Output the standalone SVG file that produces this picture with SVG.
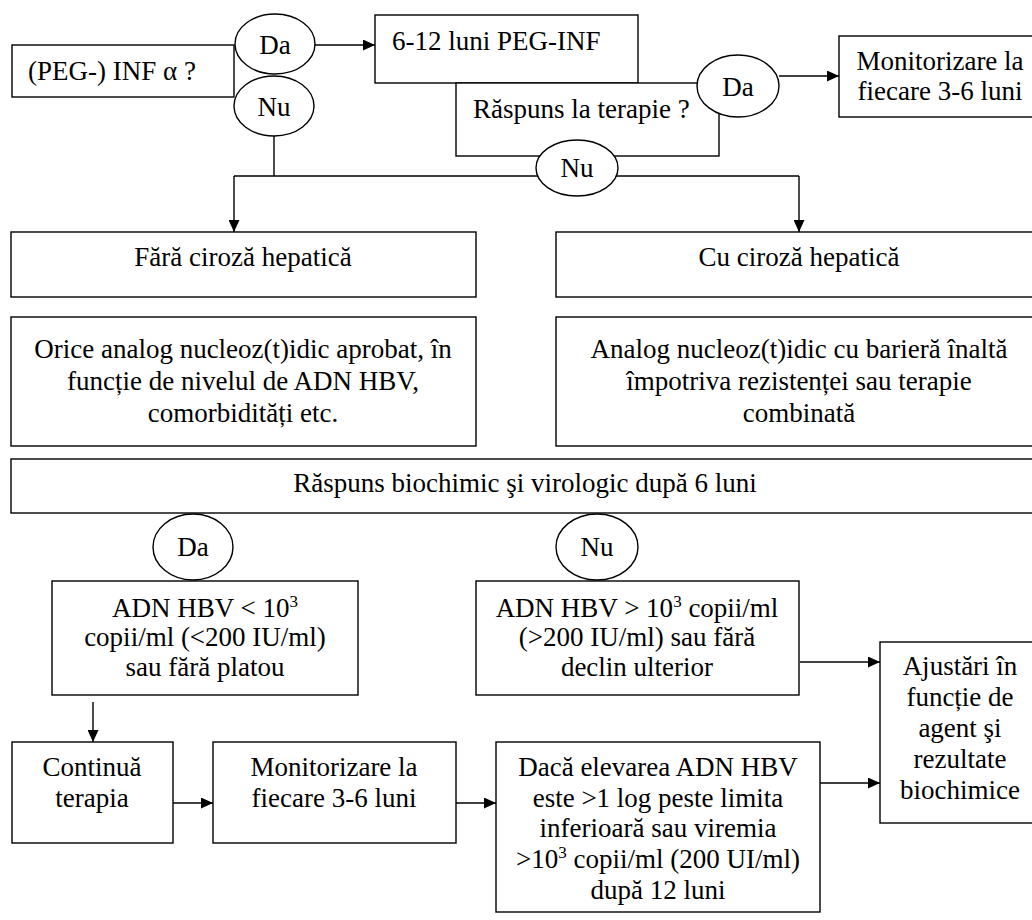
<svg xmlns="http://www.w3.org/2000/svg" width="1032" height="920" viewBox="0 0 1032 920">
<defs>
<marker id="ah" markerUnits="userSpaceOnUse" viewBox="0 0 12 11" markerWidth="12" markerHeight="11" refX="12" refY="5.5" orient="auto">
<path d="M0,0 L12,5.5 L0,11 z" fill="#000"/>
</marker>
<style>
rect.b, ellipse { fill: #fff; stroke: #000; stroke-width: 1.4; }
.c line { stroke: #000; stroke-width: 1.4; fill: none; }
.a { marker-end: url(#ah); }
text { font-family: "Liberation Serif", "Times New Roman", serif; font-size: 27px; fill: #000; }
.m { text-anchor: middle; }
.sup { font-size: 17px; }
</style>
</defs>
<rect x="0" y="0" width="1032" height="920" style="fill:#fff;stroke:none"/>

<g id="connectors" class="c">
<line class="a" x1="315" y1="45" x2="375" y2="45"/>
<line x1="274" y1="136" x2="274" y2="176"/>
<line x1="234" y1="176" x2="799" y2="176"/>
<line class="a" x1="234" y1="176" x2="234" y2="232"/>
<line class="a" x1="799" y1="176" x2="799" y2="232"/>
<line class="a" x1="779" y1="76" x2="839" y2="76"/>
<line class="a" x1="93" y1="702" x2="93" y2="742"/>
<line class="a" x1="173" y1="803" x2="213" y2="803"/>
<line class="a" x1="456" y1="803" x2="496" y2="803"/>
<line class="a" x1="800" y1="662" x2="880" y2="662"/>
<line class="a" x1="820" y1="783" x2="880" y2="783"/>
</g>

<g id="n-inf">
<rect class="b" x="12" y="45" width="222" height="52"/>
<text x="28" y="80">(PEG-) INF α ?</text>
</g>
<g id="e-da1">
<ellipse cx="275" cy="44" rx="40" ry="30"/>
<text class="m" x="275" y="54">Da</text>
</g>
<g id="e-nu1">
<ellipse cx="274" cy="106" rx="40" ry="30"/>
<text class="m" x="274" y="116">Nu</text>
</g>

<g id="n-peg">
<rect class="b" x="375" y="15" width="263" height="68"/>
<text x="392" y="50">6-12 luni PEG-INF</text>
</g>
<g id="n-raspuns">
<rect class="b" x="456" y="83" width="263" height="73"/>
<text x="473" y="118">Răspuns la terapie ?</text>
</g>
<g id="e-da2">
<ellipse cx="738" cy="86" rx="41" ry="31"/>
<text class="m" x="738" y="96">Da</text>
</g>
<g id="e-nu2">
<ellipse cx="577" cy="168" rx="41" ry="28"/>
<text class="m" x="577" y="177">Nu</text>
</g>
<g id="n-monit1">
<rect class="b" x="839" y="36" width="202" height="81"/>
<text class="m" x="940" y="70">Monitorizare la</text>
<text class="m" x="940" y="100">fiecare 3-6 luni</text>
</g>

<g id="n-fara">
<rect class="b" x="11" y="232" width="465" height="65"/>
<text class="m" x="243" y="266">Fără ciroză hepatică</text>
</g>
<g id="n-cu">
<rect class="b" x="556" y="232" width="486" height="65"/>
<text class="m" x="799" y="266">Cu ciroză hepatică</text>
</g>
<g id="n-orice">
<rect class="b" x="11" y="317" width="465" height="129"/>
<text class="m" x="243" y="358">Orice analog nucleoz(t)idic aprobat, în</text>
<text class="m" x="243" y="390">funcție de nivelul de ADN HBV,</text>
<text class="m" x="243" y="422">comorbidități etc.</text>
</g>
<g id="n-analog">
<rect class="b" x="556" y="317" width="486" height="129"/>
<text class="m" x="799" y="358">Analog nucleoz(t)idic cu barieră înaltă</text>
<text class="m" x="799" y="390">împotriva rezistenței sau terapie</text>
<text class="m" x="799" y="422">combinată</text>
</g>

<g id="n-biochim">
<rect class="b" x="11" y="459" width="1030" height="54"/>
<text class="m" x="525" y="492">Răspuns biochimic şi virologic după 6 luni</text>
</g>
<g id="e-da3">
<ellipse cx="193" cy="547" rx="40" ry="33"/>
<text class="m" x="193" y="556">Da</text>
</g>
<g id="e-nu3">
<ellipse cx="597" cy="547" rx="41" ry="33"/>
<text class="m" x="597" y="556">Nu</text>
</g>

<g id="n-adn-lt">
<rect class="b" x="52" y="581" width="306" height="114"/>
<text class="m" x="205" y="617">ADN HBV &lt; 10<tspan class="sup" dy="-10">3</tspan></text>
<text class="m" x="205" y="646">copii/ml (&lt;200 IU/ml)</text>
<text class="m" x="205" y="676">sau fără platou</text>
</g>
<g id="n-adn-gt">
<rect class="b" x="476" y="581" width="323" height="114"/>
<text class="m" x="637" y="617">ADN HBV &gt; 10<tspan class="sup" dy="-10">3</tspan><tspan dy="10"> copii/ml</tspan></text>
<text class="m" x="637" y="646">(&gt;200 IU/ml) sau fără</text>
<text class="m" x="637" y="676">declin ulterior</text>
</g>

<g id="n-continua">
<rect class="b" x="12" y="742" width="161" height="101"/>
<text class="m" x="92" y="776">Continuă</text>
<text class="m" x="92" y="807">terapia</text>
</g>
<g id="n-monit2">
<rect class="b" x="213" y="742" width="243" height="101"/>
<text class="m" x="334" y="776">Monitorizare la</text>
<text class="m" x="334" y="807">fiecare 3-6 luni</text>
</g>
<g id="n-daca">
<rect class="b" x="496" y="742" width="324" height="170"/>
<text class="m" x="658" y="776">Dacă elevarea ADN HBV</text>
<text class="m" x="658" y="807">este &gt;1 log peste limita</text>
<text class="m" x="658" y="837">inferioară sau viremia</text>
<text class="m" x="658" y="868">&gt;10<tspan class="sup" dy="-10">3</tspan><tspan dy="10"> copii/ml (200 UI/ml)</tspan></text>
<text class="m" x="658" y="899">după 12 luni</text>
</g>
<g id="n-ajustari">
<rect class="b" x="880" y="642" width="160" height="181"/>
<text class="m" x="960" y="675">Ajustări în</text>
<text class="m" x="960" y="706">funcție de</text>
<text class="m" x="960" y="737">agent şi</text>
<text class="m" x="960" y="768">rezultate</text>
<text class="m" x="960" y="799">biochimice</text>
</g>
</svg>
